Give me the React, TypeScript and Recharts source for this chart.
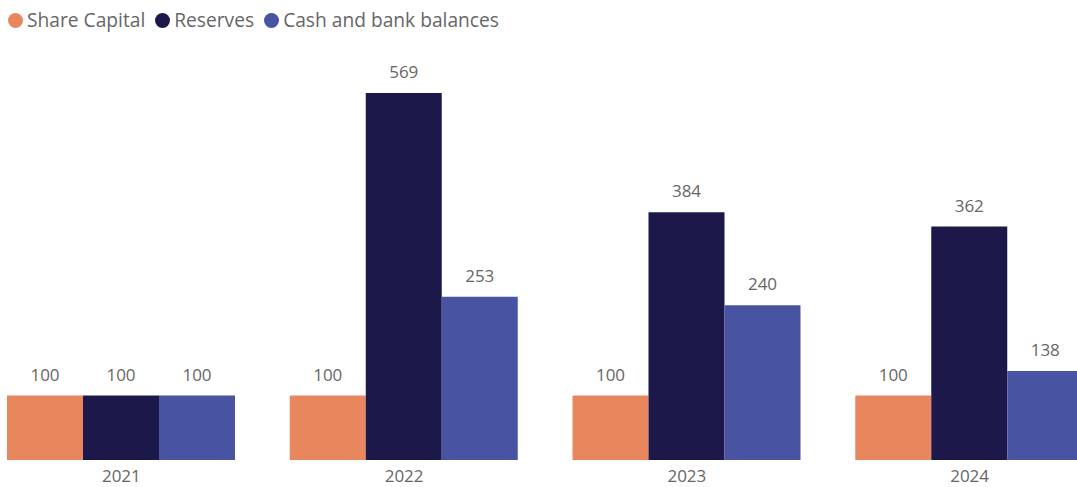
import { BarChart, Bar, XAxis, YAxis, LabelList } from "recharts";

const years = ["2021", "2022", "2023", "2024"];
const shareCapital = [100, 100, 100, 100];
const reserves = [100, 569, 384, 362];
const cashBank = [100, 253, 240, 138];

const colors = {
  share: "#E8875E",
  reserves: "#1C194A",
  cash: "#4853A2",
};

const legendItems = [
  { name: "Share Capital", color: colors.share },
  { name: "Reserves", color: colors.reserves },
  { name: "Cash and bank balances", color: colors.cash },
];

const chartData = years.map((y, i) => ({
  year: y,
  share: shareCapital[i],
  reserves: reserves[i],
  cash: cashBank[i],
}));

const font = "'Open Sans', 'Noto Sans', sans-serif";
const labelStyle = { fill: "#666666", fontSize: 17, fontFamily: font };

export default function App() {
  return (
    <div
      style={{
        position: "absolute",
        top: 0,
        left: 0,
        width: 1077,
        height: 487,
        overflow: "hidden",
        background: "#fff",
        fontFamily: font,
      }}
    >
      {/* Legenda */}
      <div
        style={{
          position: "absolute",
          top: 8,
          left: 8,
          display: "flex",
          alignItems: "center",
          fontSize: 19.2,
          color: "#666666",
          lineHeight: "24px",
          zIndex: 2,
        }}
      >
        {legendItems.map((it) => (
          <div key={it.name} style={{ display: "flex", alignItems: "center", marginRight: 10 }}>
            <span
              style={{
                width: 15,
                height: 15,
                borderRadius: "50%",
                background: it.color,
                display: "inline-block",
                marginRight: 4,
              }}
            />
            <span>{it.name}</span>
          </div>
        ))}
      </div>

      <div style={{ position: "absolute", top: 0, left: -20 }}>
        <BarChart
          width={1131}
          height={487}
          data={chartData}
          margin={{ top: 73, right: 0, bottom: 0, left: 0 }}
          barSize={76}
          barGap={0}
        >
          <XAxis
            dataKey="year"
            axisLine={false}
            tickLine={false}
            tickSize={0}
            tickMargin={10}
            height={27}
            tick={labelStyle}
          />
          <YAxis hide domain={[0, 600]} />
          <Bar dataKey="share" fill={colors.share} isAnimationActive={false}>
            <LabelList dataKey="share" position="top" offset={15} style={labelStyle} />
          </Bar>
          <Bar dataKey="reserves" fill={colors.reserves} isAnimationActive={false}>
            <LabelList dataKey="reserves" position="top" offset={15} style={labelStyle} />
          </Bar>
          <Bar dataKey="cash" fill={colors.cash} isAnimationActive={false}>
            <LabelList dataKey="cash" position="top" offset={15} style={labelStyle} />
          </Bar>
        </BarChart>
      </div>
    </div>
  );
}
